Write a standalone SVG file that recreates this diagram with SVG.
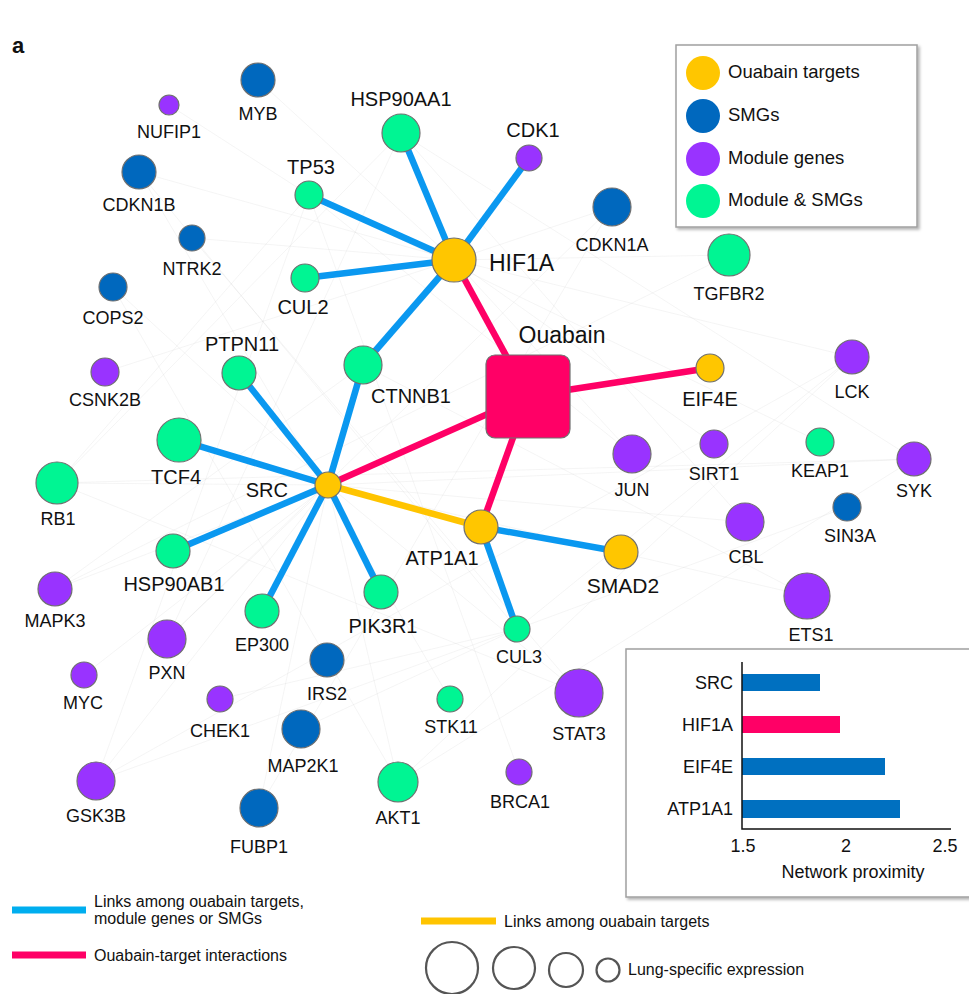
<svg xmlns="http://www.w3.org/2000/svg" width="969" height="994" viewBox="0 0 969 994">
<style>
text{font-family:"Liberation Sans",Arial,Helvetica,sans-serif;fill:#111}
.n circle{stroke:#707070;stroke-width:1.2}
.ot{fill:#FFC600}.smg{fill:#0068BE}.mod{fill:#9933FF}.ms{fill:#00F593}
.l18{font-size:18px;text-anchor:middle}
.l20{font-size:20px;text-anchor:middle}
.eb{stroke:#0A98F0;stroke-width:6.5;stroke-linecap:butt}
.er{stroke:#FF0066;stroke-width:6.5}
.ey{stroke:#FFC400;stroke-width:6.5}
.bg line{stroke:#c4c4c4;stroke-width:0.5;opacity:0.35}
.leg{font-size:18.5px}
.bl{font-size:16px}
</style>
<defs>
<filter id="sh" x="-5%" y="-5%" width="115%" height="115%">
<feDropShadow dx="2" dy="2" stdDeviation="1.5" flood-color="#000" flood-opacity="0.3"/>
</filter>
</defs>
<rect width="969" height="994" fill="#ffffff"/>
<g class="bg" id="background-links">
<line x1="454" y1="260" x2="258" y2="80"/><line x1="454" y1="260" x2="139" y2="172"/><line x1="454" y1="260" x2="192" y2="238"/>
<line x1="454" y1="260" x2="612" y2="207"/><line x1="454" y1="260" x2="729" y2="255"/><line x1="454" y1="260" x2="852" y2="357"/>
<line x1="454" y1="260" x2="632" y2="454"/><line x1="454" y1="260" x2="714" y2="444"/><line x1="454" y1="260" x2="105" y2="372"/>
<line x1="328" y1="485" x2="57" y2="483"/><line x1="328" y1="485" x2="55" y2="589"/><line x1="328" y1="485" x2="167" y2="639"/>
<line x1="328" y1="485" x2="84" y2="675"/><line x1="328" y1="485" x2="96" y2="781"/><line x1="328" y1="485" x2="259" y2="808"/>
<line x1="328" y1="485" x2="398" y2="782"/><line x1="328" y1="485" x2="579" y2="693"/><line x1="328" y1="485" x2="745" y2="522"/>
<line x1="328" y1="485" x2="807" y2="596"/><line x1="328" y1="485" x2="914" y2="459"/><line x1="328" y1="485" x2="113" y2="287"/>
<line x1="309" y1="195" x2="169" y2="105"/><line x1="309" y1="195" x2="57" y2="483"/><line x1="309" y1="195" x2="96" y2="781"/>
<line x1="309" y1="195" x2="519" y2="772"/><line x1="309" y1="195" x2="820" y2="442"/><line x1="309" y1="195" x2="632" y2="454"/>
<line x1="517" y1="629" x2="847" y2="507"/><line x1="517" y1="629" x2="220" y2="699"/><line x1="517" y1="629" x2="301" y2="729"/>
<line x1="517" y1="629" x2="139" y2="172"/><line x1="517" y1="629" x2="852" y2="357"/><line x1="517" y1="629" x2="96" y2="781"/>
<line x1="401" y1="133" x2="57" y2="483"/><line x1="401" y1="133" x2="745" y2="522"/><line x1="401" y1="133" x2="167" y2="639"/>
<line x1="401" y1="133" x2="914" y2="459"/><line x1="363" y1="365" x2="807" y2="596"/><line x1="363" y1="365" x2="55" y2="589"/>
<line x1="398" y1="782" x2="914" y2="459"/><line x1="398" y1="782" x2="113" y2="287"/><line x1="398" y1="782" x2="852" y2="357"/>
<line x1="579" y1="693" x2="57" y2="483"/><line x1="579" y1="693" x2="192" y2="238"/>
<line x1="259" y1="808" x2="612" y2="207"/><line x1="96" y1="781" x2="852" y2="357"/><line x1="55" y1="589" x2="729" y2="255"/>
<line x1="57" y1="483" x2="914" y2="459"/><line x1="167" y1="639" x2="612" y2="207"/><line x1="450" y1="699" x2="139" y2="172"/>
</g>
<g id="connectors">
<line class="eb" x1="454" y1="260" x2="401" y2="133"/>
<line class="eb" x1="454" y1="260" x2="309" y2="195"/>
<line class="eb" x1="454" y1="260" x2="529" y2="158"/>
<line class="eb" x1="454" y1="260" x2="305" y2="278"/>
<line class="eb" x1="454" y1="260" x2="363" y2="365"/>
<line class="eb" x1="328" y1="485" x2="363" y2="365"/>
<line class="eb" x1="328" y1="485" x2="239" y2="373"/>
<line class="eb" x1="328" y1="485" x2="179" y2="440"/>
<line class="eb" x1="328" y1="485" x2="173" y2="551"/>
<line class="eb" x1="328" y1="485" x2="262" y2="611"/>
<line class="eb" x1="328" y1="485" x2="381" y2="592"/>
<line class="eb" x1="481" y1="527" x2="621" y2="552"/>
<line class="eb" x1="481" y1="527" x2="517" y2="629"/>
<line class="ey" x1="328" y1="485" x2="481" y2="527"/>
<line class="er" x1="528" y1="396" x2="454" y2="260"/>
<line class="er" x1="528" y1="396" x2="710" y2="368"/>
<line class="er" x1="528" y1="396" x2="328" y2="485"/>
<line class="er" x1="528" y1="396" x2="481" y2="527"/>
</g>
<text x="12" y="53" font-size="22" font-weight="bold">a</text>
<g id="Ouabain"><rect x="486" y="355" width="84" height="83" rx="9" fill="#FF0066" stroke="#707070" stroke-width="1.2"/><text x="562" y="343" font-size="23" text-anchor="middle">Ouabain</text></g>
<g class="n" id="MYB"><circle class="smg" cx="258" cy="80" r="17"/><text class="l18" x="258" y="120">MYB</text></g>
<g class="n" id="NUFIP1"><circle class="mod" cx="169" cy="105" r="10"/><text class="l18" x="169" y="138">NUFIP1</text></g>
<g class="n" id="CDKN1B"><circle class="smg" cx="139" cy="172" r="17"/><text class="l18" x="139" y="211">CDKN1B</text></g>
<g class="n" id="NTRK2"><circle class="smg" cx="192" cy="238" r="13"/><text class="l18" x="192" y="275">NTRK2</text></g>
<g class="n" id="COPS2"><circle class="smg" cx="113" cy="287" r="14"/><text class="l18" x="113" y="324">COPS2</text></g>
<g class="n" id="CSNK2B"><circle class="mod" cx="105" cy="372" r="14"/><text class="l18" x="105" y="406">CSNK2B</text></g>
<g class="n" id="HSP90AA1"><circle class="ms" cx="401" cy="133" r="19"/><text class="l20" x="401" y="106">HSP90AA1</text></g>
<g class="n" id="TP53"><circle class="ms" cx="309" cy="195" r="14"/><text class="l20" x="311" y="174">TP53</text></g>
<g class="n" id="CDK1"><circle class="mod" cx="529" cy="158" r="13"/><text class="l20" x="533" y="137">CDK1</text></g>
<g class="n" id="HIF1A"><circle class="ot" cx="454" cy="260" r="22"/><text x="489" y="271" font-size="23">HIF1A</text></g>
<g class="n" id="CUL2"><circle class="ms" cx="305" cy="278" r="14"/><text class="l20" x="303" y="314">CUL2</text></g>
<g class="n" id="CDKN1A"><circle class="smg" cx="612" cy="207" r="19"/><text class="l18" x="612" y="251">CDKN1A</text></g>
<g class="n" id="TGFBR2"><circle class="ms" cx="729" cy="255" r="21"/><text class="l18" x="729" y="300">TGFBR2</text></g>
<g class="n" id="EIF4E"><circle class="ot" cx="710" cy="368" r="14"/><text class="l20" x="710" y="406">EIF4E</text></g>
<g class="n" id="LCK"><circle class="mod" cx="852" cy="357" r="17"/><text class="l18" x="852" y="398">LCK</text></g>
<g class="n" id="PTPN11"><circle class="ms" cx="239" cy="373" r="17"/><text class="l20" x="242" y="351">PTPN11</text></g>
<g class="n" id="CTNNB1"><circle class="ms" cx="363" cy="365" r="19"/><text class="l20" x="411" y="403">CTNNB1</text></g>
<g class="n" id="TCF4"><circle class="ms" cx="179" cy="440" r="22"/><text class="l20" x="176" y="484">TCF4</text></g>
<g class="n" id="SRC"><circle class="ot" cx="328" cy="485" r="13"/><text x="288" y="497" font-size="20" text-anchor="end">SRC</text></g>
<g class="n" id="RB1"><circle class="ms" cx="57" cy="483" r="21"/><text class="l18" x="58" y="525">RB1</text></g>
<g class="n" id="JUN"><circle class="mod" cx="632" cy="454" r="19"/><text class="l18" x="632" y="496">JUN</text></g>
<g class="n" id="SIRT1"><circle class="mod" cx="714" cy="444" r="14"/><text class="l18" x="714" y="480">SIRT1</text></g>
<g class="n" id="KEAP1"><circle class="ms" cx="820" cy="442" r="14"/><text class="l18" x="820" y="477">KEAP1</text></g>
<g class="n" id="SYK"><circle class="mod" cx="914" cy="459" r="17"/><text class="l18" x="914" y="497">SYK</text></g>
<g class="n" id="SIN3A"><circle class="smg" cx="847" cy="507" r="14"/><text class="l18" x="850" y="542">SIN3A</text></g>
<g class="n" id="CBL"><circle class="mod" cx="745" cy="522" r="19"/><text class="l18" x="746" y="563">CBL</text></g>
<g class="n" id="ATP1A1"><circle class="ot" cx="481" cy="527" r="17"/><text class="l20" x="442" y="565">ATP1A1</text></g>
<g class="n" id="SMAD2"><circle class="ot" cx="621" cy="552" r="17"/><text x="623" y="593" font-size="21" text-anchor="middle">SMAD2</text></g>
<g class="n" id="HSP90AB1"><circle class="ms" cx="173" cy="551" r="17"/><text class="l20" x="174" y="591">HSP90AB1</text></g>
<g class="n" id="MAPK3"><circle class="mod" cx="55" cy="589" r="17"/><text class="l18" x="55" y="627">MAPK3</text></g>
<g class="n" id="EP300"><circle class="ms" cx="262" cy="611" r="17"/><text class="l18" x="262" y="651">EP300</text></g>
<g class="n" id="PIK3R1"><circle class="ms" cx="381" cy="592" r="17"/><text class="l20" x="383" y="633">PIK3R1</text></g>
<g class="n" id="CUL3"><circle class="ms" cx="517" cy="629" r="13"/><text class="l18" x="519" y="663">CUL3</text></g>
<g class="n" id="ETS1"><circle class="mod" cx="807" cy="596" r="23"/><text class="l18" x="811" y="641">ETS1</text></g>
<g class="n" id="PXN"><circle class="mod" cx="167" cy="639" r="19"/><text class="l18" x="167" y="679">PXN</text></g>
<g class="n" id="MYC"><circle class="mod" cx="84" cy="675" r="13"/><text class="l18" x="83" y="709">MYC</text></g>
<g class="n" id="IRS2"><circle class="smg" cx="327" cy="660" r="17"/><text class="l18" x="327" y="700">IRS2</text></g>
<g class="n" id="CHEK1"><circle class="mod" cx="220" cy="699" r="13"/><text class="l18" x="220" y="737">CHEK1</text></g>
<g class="n" id="STK11"><circle class="ms" cx="450" cy="699" r="13"/><text class="l18" x="451" y="733">STK11</text></g>
<g class="n" id="STAT3"><circle class="mod" cx="579" cy="693" r="24"/><text class="l18" x="579" y="740">STAT3</text></g>
<g class="n" id="MAP2K1"><circle class="smg" cx="301" cy="729" r="19"/><text class="l18" x="303" y="772">MAP2K1</text></g>
<g class="n" id="GSK3B"><circle class="mod" cx="96" cy="781" r="19"/><text class="l18" x="96" y="822">GSK3B</text></g>
<g class="n" id="AKT1"><circle class="ms" cx="398" cy="782" r="20"/><text class="l18" x="398" y="824">AKT1</text></g>
<g class="n" id="BRCA1"><circle class="mod" cx="519" cy="772" r="13"/><text class="l18" x="520" y="808">BRCA1</text></g>
<g class="n" id="FUBP1"><circle class="smg" cx="259" cy="808" r="19"/><text class="l18" x="259" y="853">FUBP1</text></g>
<g id="legend-colors">
<rect x="676" y="45" width="241" height="182" fill="#fff" stroke="#a0a0a0" stroke-width="1.5" filter="url(#sh)"/>
<circle cx="703" cy="73" r="17" fill="#FFC600"/><text class="leg" x="728" y="78">Ouabain targets</text>
<circle cx="703" cy="116" r="17" fill="#0068BE"/><text class="leg" x="728" y="121">SMGs</text>
<circle cx="703" cy="159" r="17" fill="#9933FF"/><text class="leg" x="728" y="164">Module genes</text>
<circle cx="703" cy="201" r="17" fill="#00F593"/><text class="leg" x="728" y="206">Module &amp; SMGs</text>
</g>
<g id="proximity-chart">
<rect x="626" y="649" width="360" height="248" fill="#fff" stroke="#a0a0a0" stroke-width="1.5" filter="url(#sh)"/>
<rect x="742" y="674" width="78" height="17" fill="#0070C0"/>
<rect x="742" y="716" width="98" height="17" fill="#FF0066"/>
<rect x="742" y="758" width="143" height="17" fill="#0070C0"/>
<rect x="742" y="800" width="158" height="18" fill="#0070C0"/>
<polyline points="742,662 742,829 951,829" fill="none" stroke="#111" stroke-width="1.5"/>
<g font-size="18" text-anchor="end">
<text x="733" y="689">SRC</text><text x="733" y="731">HIF1A</text><text x="733" y="773">EIF4E</text><text x="733" y="815">ATP1A1</text>
</g>
<g font-size="18" text-anchor="middle">
<text x="743" y="852">1.5</text><text x="846" y="852">2</text><text x="945" y="852">2.5</text>
<text x="853" y="878">Network proximity</text>
</g>
</g>
<g id="legend-links">
<line x1="12" y1="910" x2="86" y2="910" stroke="#00AEEF" stroke-width="7"/>
<text class="bl" x="94" y="907">Links among ouabain targets,</text>
<text class="bl" x="94" y="924">module genes or SMGs</text>
<line x1="12" y1="955" x2="86" y2="955" stroke="#FF0066" stroke-width="7"/>
<text class="bl" x="94" y="961">Ouabain-target interactions</text>
<line x1="421" y1="921" x2="496" y2="921" stroke="#FFC400" stroke-width="7"/>
<text class="bl" x="504" y="927">Links among ouabain targets</text>
<g fill="none" stroke="#555" stroke-width="2.2">
<circle cx="452" cy="968" r="26"/><circle cx="514" cy="968" r="21"/><circle cx="566" cy="970" r="17"/><circle cx="608" cy="970" r="11.5"/>
</g>
<text class="bl" x="628" y="975">Lung-specific expression</text>
</g>
</svg>
